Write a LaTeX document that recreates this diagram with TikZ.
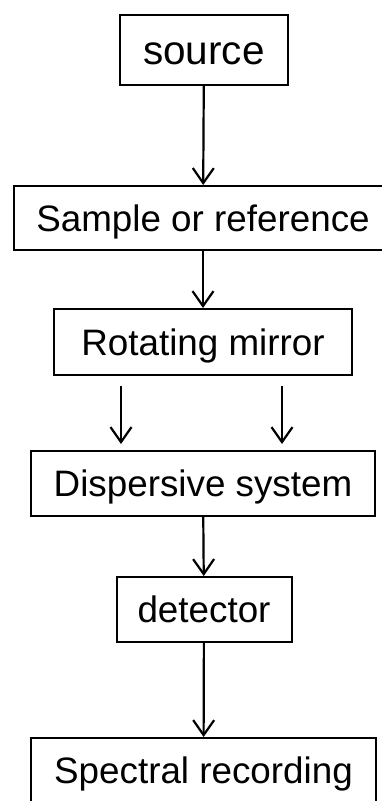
\documentclass[tikz,border=0pt]{standalone}
\usepackage{fontspec}
\setmainfont{Liberation Sans}
\usepackage{tikz}
\usetikzlibrary{arrows.meta}

\tikzset{
 box/.style={draw,line width=2pt,inner sep=0pt,minimum height=65pt,
  text height=26.5pt,text depth=0pt,font=\fontsize{36.8}{40}\selectfont},
 flow/.style={line width=2.2pt,-{Straight Barb[length=15pt,width=21pt,line width=2.2pt]}}
}

\begin{document}
\begin{tikzpicture}[x=1pt,y=-1pt]
 \useasboundingbox (0,0) rectangle (382,801);
 \node[box,minimum width=168pt,minimum height=70pt,text height=29pt,font=\fontsize{40.5}{44}\selectfont] (source) at (204,49.5) {source};
 \node[box,minimum width=378pt,minimum height=64pt] (sample) at (203,218) {Sample or reference};
 \node[box,minimum width=298pt,minimum height=66pt] (mirror) at (203,342) {Rotating mirror};
 \node[box,minimum width=344pt] (disp) at (203,483.5) {Dispersive system};
 \node[box,minimum width=175pt] (detector) at (204,609.5) {detector};
 \node[box,minimum width=345pt] (record) at (203.5,770.5) {Spectral recording};
 \draw[flow] (source) -- (sample);
 \draw[flow] (sample) -- (mirror);
 %two beams leave the mirror
 \draw[flow] ([xshift=-82pt,yshift=-10pt]mirror.south) -- ([xshift=-82pt,yshift=6pt]disp.north);
 \draw[flow] ([xshift=79pt,yshift=-10pt]mirror.south) -- ([xshift=79pt,yshift=6pt]disp.north);
 \draw[flow] (disp) -- (detector);
 \draw[flow] (detector) -- (record);
\end{tikzpicture}
\end{document}
